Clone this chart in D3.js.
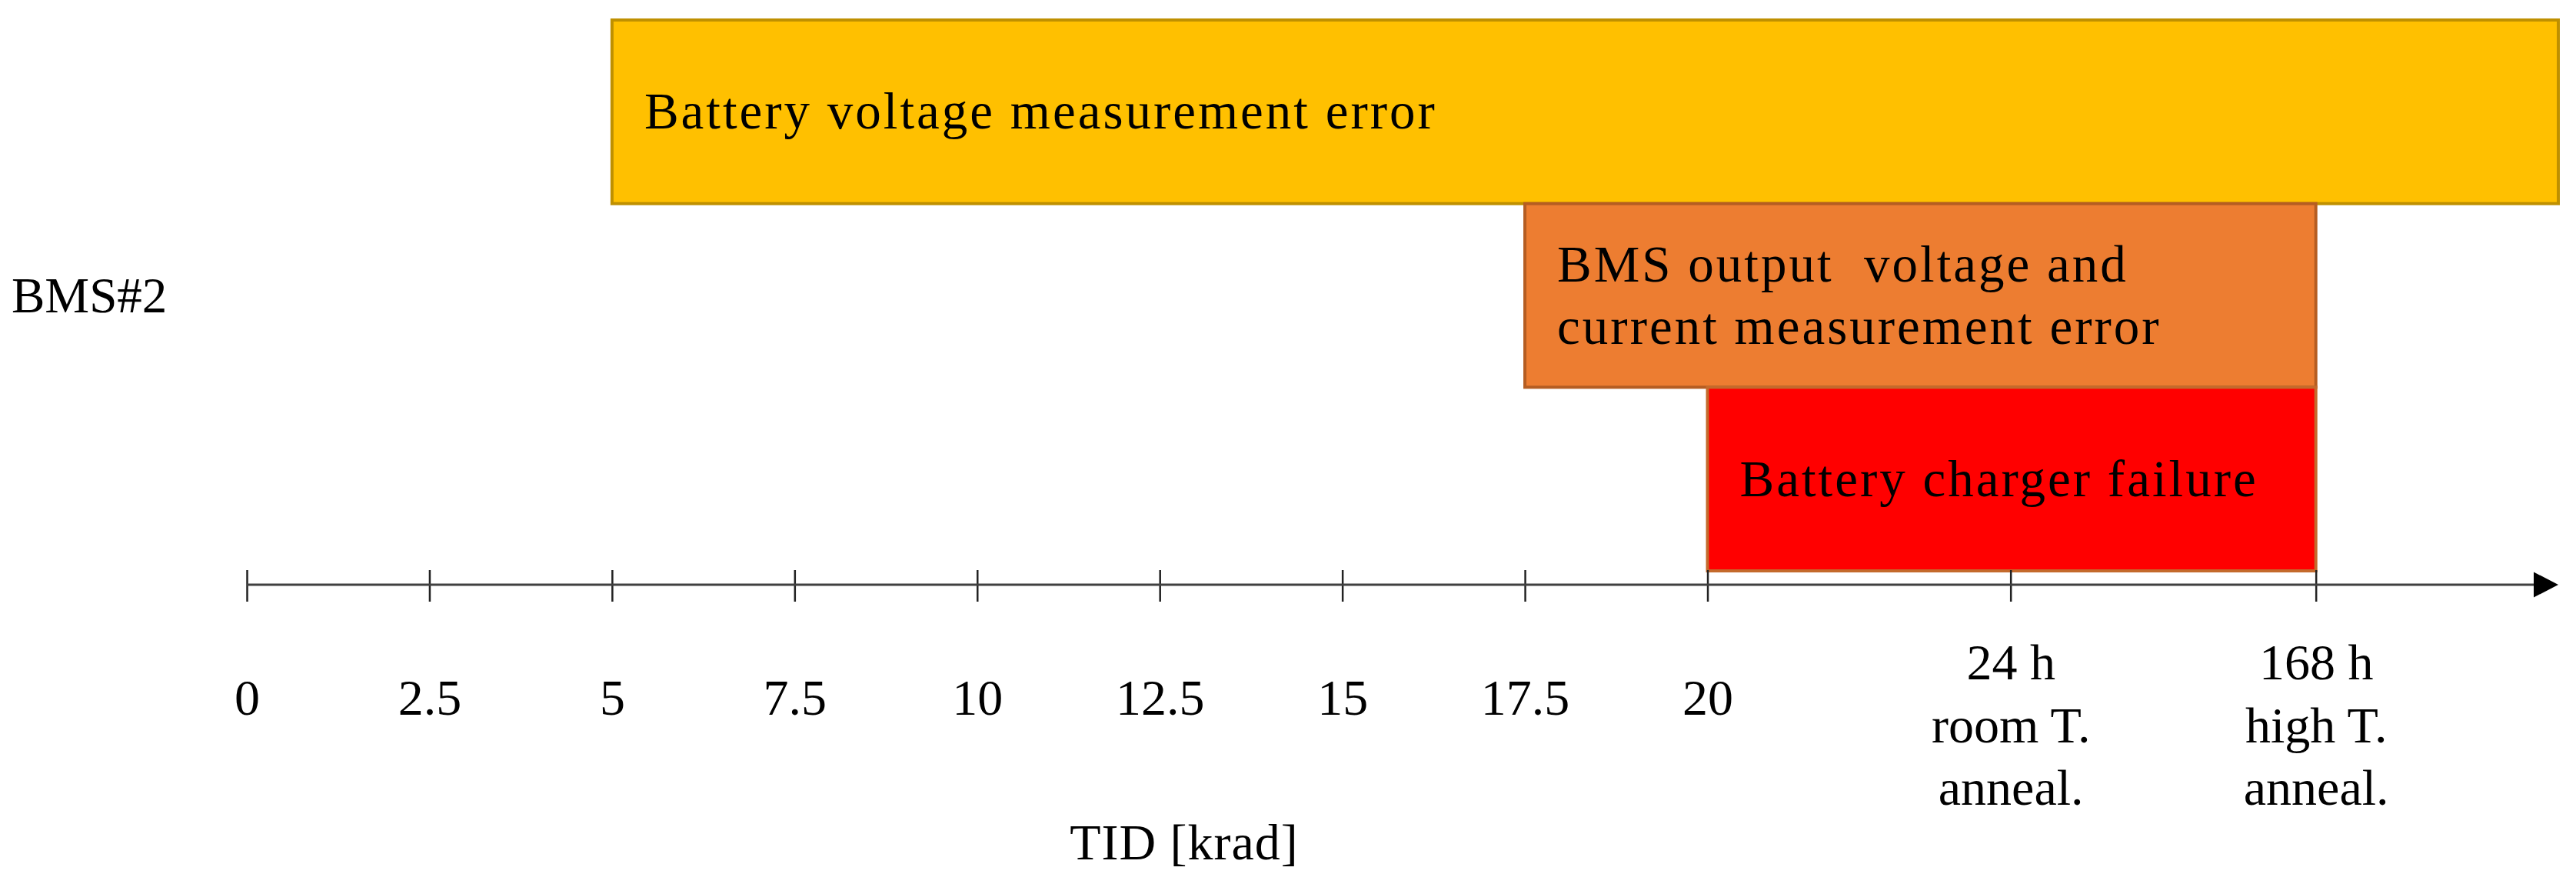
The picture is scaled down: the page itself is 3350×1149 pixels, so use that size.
<!DOCTYPE html>
<html lang="en">

<head>
    <title>BMS#2 TID failures</title>
    <script src="https://d3js.org/d3.v7.min.js"></script>
    <style>
        body {
            margin: 0;
            background: white;
        }

        svg text {
            font-family: 'Liberation Serif', 'Times New Roman', serif;
            fill: black;
        }
    </style>
</head>

<body>
    <div id="chart"></div>

    <script>

        // rows on the y side
        const rowNames = ['BMS#2'];

        // TID positions of the ticks and what is printed under them
        const tickValues = [0, 2.5, 5, 7.5, 10, 12.5, 15, 17.5, 20, 24.15, 28.33];
        const tickLabels = ['0', '2.5', '5', '7.5', '10', '12.5', '15', '17.5', '20',
            '24 h\nroom T.\nanneal.', '168 h\nhigh T.\nanneal.'];
        const axisEnd = 31.65;

        // failure bands, top to bottom
        const failureLabels = ['Battery voltage measurement error',
            'BMS output  voltage and\ncurrent measurement error',
            'Battery charger failure'];
        const failureStart = [5, 17.5, 20];
        const failureEnd = [31.65, 28.33, 28.33];

        const fillColors = ['#ffc000', '#ed7d31', '#ff0000'];
        const edgeColors = ['#bf9000', '#b55d22', '#c46a2c'];

        const svgWidth = 3350, svgHeight = 1149;
        const bandTop = 26, bandBottom = 742, axisY = 760;
        const fontSize = 67, lineStep = 81;

        const svg = d3.select('#chart')
            .append('svg')
            .attr('width', svgWidth)
            .attr('height', svgHeight);

        const x = d3.scaleLinear()
            .domain([0, axisEnd])
            .range([321, 3327]);

        const y = d3.scaleBand()
            .domain(d3.range(failureLabels.length))
            .range([bandTop, bandBottom])
            .padding(0);

        // failure bars
        const bars = svg.append('g').attr('id', 'bars')
            .selectAll('g')
            .data(failureLabels)
            .join('g');

        bars.append('rect')
            .attr('x', (d, i) => x(failureStart[i]))
            .attr('y', (d, i) => y(i))
            .attr('width', (d, i) => x(failureEnd[i]) - x(failureStart[i]))
            .attr('height', y.bandwidth())
            .attr('fill', (d, i) => fillColors[i])
            .attr('stroke', (d, i) => edgeColors[i])
            .attr('stroke-width', 4);

        bars.append('text')
            .attr('font-size', fontSize + 'px')
            .style('letter-spacing', '3px')
            .each(function (d, i) {
                const lines = d.split('\n');
                const mid = y(i) + y.bandwidth() / 2 + fontSize * 0.33;
                const first = mid - (lines.length - 1) * lineStep / 2;
                d3.select(this).selectAll('tspan')
                    .data(lines)
                    .join('tspan')
                    .attr('x', x(failureStart[i]) + 42)
                    .attr('y', (l, j) => first + j * lineStep)
                    .attr('xml:space', 'preserve')
                    .style('white-space', 'pre')
                    .text(l => l);
            });

        // row label
        svg.append('text')
            .attr('x', 15)
            .attr('y', (bandTop + bandBottom) / 2 + fontSize * 0.33)
            .attr('font-size', '65px')
            .text(rowNames[0]);

        // x axis
        const xAxis = d3.axisBottom(x)
            .tickValues(tickValues)
            .tickFormat((d, i) => tickLabels[i])
            .tickSizeOuter(0);

        const axisG = svg.append('g')
            .attr('id', 'xaxis')
            .attr('transform', 'translate(0,' + axisY + ')')
            .call(xAxis);

        axisG.select('.domain').remove();

        axisG.selectAll('.tick line')
            .attr('y1', -19)
            .attr('y2', 22)
            .attr('stroke', '#222')
            .attr('stroke-width', 2.5);

        axisG.selectAll('.tick text')
            .attr('font-size', '66px')
            .attr('font-family', "'Liberation Serif', serif")
            .attr('fill', 'black')
            .attr('dy', null)
            .each(function (d, i) {
                const lines = tickLabels[i].split('\n');
                const first = lines.length > 1 ? 123 : 169;
                const t = d3.select(this).text(null);
                t.selectAll('tspan')
                    .data(lines)
                    .join('tspan')
                    .attr('x', 0)
                    .attr('y', (l, j) => first + j * 81.5)
                    .text(l => l);
            });

        axisG.append('line')
            .attr('x1', x(0))
            .attr('x2', x(axisEnd) - 30)
            .attr('y1', 0)
            .attr('y2', 0)
            .attr('stroke', '#404040')
            .attr('stroke-width', 3);

        axisG.append('path')
            .attr('d', d3.line()([[x(axisEnd) - 32, -16.5], [x(axisEnd), 0], [x(axisEnd) - 32, 16.5]]) + 'Z')
            .attr('fill', 'black');

        // axis title
        svg.append('text')
            .attr('x', 1540)
            .attr('y', 1117)
            .attr('text-anchor', 'middle')
            .attr('font-size', '66px')
            .style('letter-spacing', '1px')
            .text('TID [krad]');

    </script>
</body>

</html>
